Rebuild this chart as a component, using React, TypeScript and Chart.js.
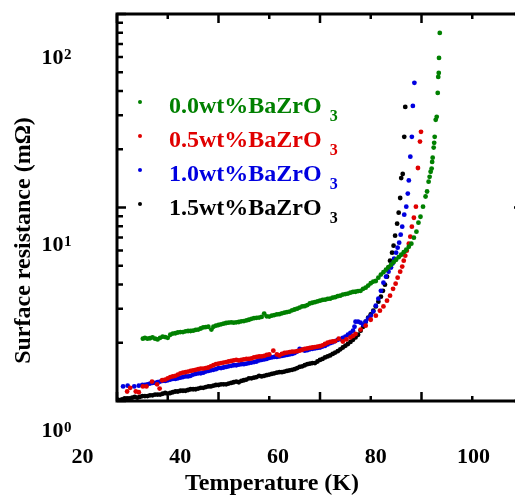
import React, { useEffect, useRef } from 'react';
import { Chart, registerables } from 'chart.js';

Chart.register(...registerables);

// ---- data ----
const seriesNames = ['0.0wt%BaZrO', '0.5wt%BaZrO', '1.0wt%BaZrO', '1.5wt%BaZrO'];
const seriesSubscript = '3';
const seriesColors = ['#008000', '#e00000', '#0000e0', '#000000'];

const tempGreen = [25.1, 26, 27, 28, 29, 30, 31, 32, 33, 34, 35, 36, 37, 38, 38.6, 39, 40, 41, 42, 43, 44, 45, 46, 47, 48, 49, 50, 51, 52, 53, 54, 55, 55.5, 56, 56.5, 57, 57.5, 58, 58.5, 59, 59.5, 60, 60.5, 61, 61.5, 62, 62.5, 63, 63.5, 64, 64.5, 65, 65.5, 66, 66.5, 67, 67.5, 68, 68.5, 69, 69.5, 70, 70.5, 71, 71.5, 72, 72.5, 73, 73.5, 74, 74.5, 75, 75.5, 76, 76.5, 77, 77.5, 78, 78.5, 79, 79.4, 79.8, 80.3, 80.8, 81.1, 81.4, 81.6, 81.8, 82.0, 82.1, 82.2, 82.4, 82.5, 82.6, 82.8, 83.0, 83.2, 83.3, 83.4, 83.45, 83.6];
const resGreen = [2.10, 2.10, 2.13, 2.08, 2.15, 2.12, 2.23, 2.26, 2.27, 2.30, 2.31, 2.34, 2.40, 2.42, 2.34, 2.42, 2.47, 2.51, 2.54, 2.54, 2.56, 2.59, 2.63, 2.68, 2.70, 2.83, 2.73, 2.78, 2.81, 2.86, 2.90, 2.97, 3.00, 3.04, 3.08, 3.09, 3.13, 3.19, 3.22, 3.24, 3.27, 3.30, 3.33, 3.34, 3.37, 3.38, 3.42, 3.44, 3.48, 3.50, 3.55, 3.57, 3.59, 3.63, 3.66, 3.67, 3.70, 3.71, 3.80, 3.85, 3.95, 4.06, 4.14, 4.17, 4.34, 4.50, 4.63, 4.77, 4.92, 5.06, 5.22, 5.37, 5.54, 5.70, 5.88, 6.05, 6.27, 6.50, 6.98, 7.50, 8.35, 8.96, 10.1, 11.4, 12.1, 13.6, 14.4, 15.3, 15.9, 17.2, 18.1, 20.4, 21.6, 23.2, 28.4, 29.4, 39.1, 47.3, 49.6, 59.3, 79.8];
const tempGreenB = [25.5, 26.5, 27.5, 28.5, 29.5, 30.5, 31.5, 32.5, 33.5, 34.5, 35.5, 36.5, 37.5, 39.5, 40.5, 41.5, 42.5, 43.5, 44.5, 45.5, 46.5, 47.5, 48.5, 49.5, 50.5, 51.5, 52.5, 53.5, 54.5];
const resGreenB = [2.12, 2.11, 2.10, 2.12, 2.14, 2.20, 2.24, 2.27, 2.29, 2.30, 2.33, 2.37, 2.41, 2.45, 2.49, 2.53, 2.55, 2.55, 2.58, 2.61, 2.66, 2.69, 2.72, 2.74, 2.76, 2.80, 2.84, 2.88, 2.94];

const tempRed = [22.0, 22.6, 23.7, 24.3, 25.1, 25.8, 26.9, 27.9, 28.4, 28.9, 30, 31, 32, 33, 34, 35, 36, 37, 38, 39, 40, 41, 42, 43, 44, 45, 46, 47, 48, 49, 50, 50.8, 51.5, 52, 53, 54, 55, 56, 57, 58, 59, 60, 61, 62, 63, 63.7, 64.5, 65.2, 66, 67, 68, 69, 70, 71, 71.8, 72.5, 73.2, 73.8, 74.4, 74.9, 75.3, 75.8, 76.2, 76.5, 76.8, 77.1, 77.5, 77.8, 78.1, 78.5, 78.9, 79.3, 79.7, 79.9];
const resRed = [1.12, 1.17, 1.12, 1.11, 1.19, 1.19, 1.26, 1.22, 1.16, 1.28, 1.31, 1.34, 1.37, 1.40, 1.42, 1.44, 1.46, 1.47, 1.49, 1.53, 1.56, 1.58, 1.60, 1.62, 1.62, 1.64, 1.65, 1.68, 1.70, 1.71, 1.74, 1.82, 1.74, 1.72, 1.77, 1.79, 1.80, 1.82, 1.86, 1.88, 1.90, 1.92, 1.97, 2.02, 2.04, 2.10, 2.03, 2.08, 2.13, 2.22, 2.34, 2.45, 2.63, 2.76, 2.93, 3.08, 3.30, 3.50, 3.80, 4.04, 4.34, 4.66, 4.95, 5.31, 5.64, 5.98, 6.50, 7.07, 7.96, 8.85, 10.1, 16.0, 21.9, 24.6];
const tempRedB = [29.5, 30.5, 31.5, 32.5, 33.5, 34.5, 35.5, 36.5, 37.5, 38.5, 39.5, 40.5, 41.5, 42.5, 43.5, 44.5, 45.5, 46.5, 47.5, 48.5, 49.5, 52.5, 53.5, 54.5, 55.5, 56.5, 57.5, 58.5, 59.5, 60.5, 61.5, 62.5, 66.5];
const resRedB = [1.29, 1.33, 1.35, 1.39, 1.41, 1.43, 1.45, 1.47, 1.48, 1.51, 1.55, 1.57, 1.59, 1.61, 1.63, 1.63, 1.65, 1.66, 1.69, 1.70, 1.73, 1.75, 1.78, 1.80, 1.81, 1.84, 1.87, 1.89, 1.91, 1.94, 2.00, 2.03, 2.17];

const tempBlue = [21.2, 22.1, 23.4, 24.3, 25, 26, 27, 28, 29, 30, 31, 32, 33, 34, 35, 36, 37, 38, 39, 40, 41, 42, 43, 44, 45, 46, 47, 48, 49, 50, 51, 52, 53, 54, 55, 56, 57, 58, 59, 60, 61, 62, 63, 64, 65, 66, 66.5, 66.8, 67, 67.5, 68, 68.5, 69, 69.5, 70, 70.5, 71, 71.5, 72, 72.5, 73, 73.5, 74, 74.3, 74.6, 75, 75.3, 75.6, 75.9, 76.2, 76.6, 77.0, 77.3, 77.5, 77.8, 78.1, 78.3, 78.6];
const resBlue = [1.19, 1.20, 1.19, 1.20, 1.21, 1.22, 1.24, 1.25, 1.27, 1.28, 1.30, 1.31, 1.33, 1.34, 1.37, 1.39, 1.40, 1.43, 1.45, 1.48, 1.49, 1.51, 1.53, 1.54, 1.55, 1.57, 1.59, 1.62, 1.64, 1.67, 1.69, 1.70, 1.72, 1.74, 1.77, 1.86, 1.82, 1.85, 1.87, 1.89, 1.93, 1.99, 2.04, 2.09, 2.15, 2.25, 2.31, 2.42, 2.57, 2.57, 2.54, 2.48, 2.57, 2.67, 2.76, 2.90, 3.11, 3.38, 3.71, 4.09, 4.39, 4.66, 4.89, 5.13, 5.44, 5.84, 6.20, 6.58, 7.24, 7.96, 9.18, 10.1, 11.8, 13.8, 18.3, 23.2, 33.5, 44.1];
const tempBlueB = [25.5, 26.5, 27.5, 28.5, 29.5, 30.5, 31.5, 32.5, 33.5, 34.5, 35.5, 36.5, 37.5, 38.5, 39.5, 40.5, 41.5, 42.5, 43.5, 44.5, 45.5, 46.5, 47.5, 48.5, 49.5, 50.5, 51.5, 52.5, 53.5, 54.5, 55.5, 56.5, 57.5, 58.5, 59.5, 60.5, 61.5, 62.5, 63.5, 64.5, 65.5];
const resBlueB = [1.21, 1.23, 1.24, 1.26, 1.27, 1.29, 1.30, 1.32, 1.34, 1.35, 1.38, 1.39, 1.42, 1.44, 1.46, 1.48, 1.50, 1.52, 1.53, 1.55, 1.56, 1.58, 1.60, 1.63, 1.65, 1.68, 1.69, 1.71, 1.73, 1.75, 1.80, 1.84, 1.83, 1.86, 1.88, 1.91, 1.96, 2.01, 2.07, 2.12, 2.20];

const tempBlack = [20, 21, 22, 23, 24, 25, 26, 27, 28, 29, 30, 31, 32, 33, 34, 35, 36, 37, 38, 39, 40, 41, 42, 43, 44, 45, 46, 47, 48, 49, 50, 51, 52, 53, 54, 55, 56, 57, 58, 59, 60, 61, 62, 63, 64, 65, 66, 67, 67.5, 68, 68.5, 69, 69.5, 70, 70.5, 71, 71.5, 72, 72.4, 72.8, 73.2, 73.5, 73.8, 74.2, 74.5, 74.8, 75.2, 75.5, 75.8, 76.0, 76.3, 76.6, 76.8];
const resBlack = [1.02, 1.02, 1.03, 1.04, 1.04, 1.06, 1.06, 1.07, 1.08, 1.09, 1.09, 1.11, 1.12, 1.13, 1.14, 1.15, 1.16, 1.17, 1.19, 1.20, 1.21, 1.22, 1.23, 1.25, 1.25, 1.28, 1.31, 1.32, 1.35, 1.35, 1.37, 1.39, 1.41, 1.42, 1.44, 1.46, 1.50, 1.53, 1.56, 1.57, 1.63, 1.68, 1.72, 1.78, 1.85, 1.93, 2.02, 2.13, 2.20, 2.31, 2.42, 2.57, 2.70, 2.80, 2.93, 3.08, 3.26, 3.46, 3.71, 3.99, 4.39, 4.89, 5.31, 5.84, 6.35, 7.15, 8.25, 9.40, 11.2, 14.2, 14.9, 23.2, 33.1];
const tempBlackB = [20.5, 21.5, 22.5, 23.5, 24.5, 25.5, 26.5, 27.5, 28.5, 29.5, 30.5, 31.5, 32.5, 33.5, 34.5, 35.5, 36.5, 37.5, 38.5, 39.5, 40.5, 41.5, 42.5, 43.5, 44.5, 45.5, 46.5, 47.5, 48.5, 49.5, 50.5, 51.5, 52.5, 53.5, 54.5, 55.5, 56.5, 57.5, 58.5, 59.5, 60.5, 61.5, 62.5, 63.5, 64.5, 65.5, 66.5];
const resBlackB = [1.01, 1.03, 1.03, 1.05, 1.05, 1.06, 1.07, 1.08, 1.08, 1.10, 1.10, 1.12, 1.13, 1.13, 1.15, 1.15, 1.17, 1.18, 1.19, 1.21, 1.22, 1.22, 1.24, 1.26, 1.27, 1.29, 1.31, 1.33, 1.34, 1.36, 1.38, 1.40, 1.41, 1.43, 1.45, 1.48, 1.51, 1.55, 1.57, 1.60, 1.65, 1.70, 1.75, 1.81, 1.89, 1.97, 2.07];

const seriesTemps = [tempGreen.concat(tempGreenB), tempRed.concat(tempRedB), tempBlue.concat(tempBlueB), tempBlack.concat(tempBlackB)];
const seriesRes = [resGreen.concat(resGreenB), resRed.concat(resRedB), resBlue.concat(resBlueB), resBlack.concat(resBlackB)];

const xTickLabels = [20, 40, 60, 80, 100];
const xMinorTicks = [30, 50, 70, 90];
const yTickExponents = [2, 1, 0];
const yMinorMantissas = [2, 3, 4, 5, 6, 7, 8, 9];
const xTitle = 'Temperature (K)';
const yTitle = 'Surface resistance (mΩ)';

const FONT = '"Liberation Serif", "Times New Roman", Times, serif';

const decorPlugin = {
  id: 'decor',
  afterDatasetsDraw(chart: any) {
    const ctx = chart.ctx as CanvasRenderingContext2D;
    const { left, right, top, bottom } = chart.chartArea;
    const xs = chart.scales.x;
    const ys = chart.scales.y;
    const xl = chart.scales.xl;
    const yl = chart.scales.yl;
    ctx.save();
    ctx.strokeStyle = '#000';
    ctx.fillStyle = '#000';

    // inward ticks
    ctx.lineWidth = 2.5;
    ctx.lineCap = 'butt';
    const vTick = (px: number, len: number) => {
      ctx.beginPath();
      ctx.moveTo(px, bottom);
      ctx.lineTo(px, bottom - len);
      ctx.moveTo(px, top);
      ctx.lineTo(px, top + len);
      ctx.stroke();
    };
    const hTick = (py: number, len: number) => {
      ctx.beginPath();
      ctx.moveTo(left, py);
      ctx.lineTo(left + len, py);
      ctx.moveTo(right, py);
      ctx.lineTo(right - len, py);
      ctx.stroke();
    };
    xTickLabels.forEach((v) => vTick(xs.getPixelForValue(v), 9));
    xMinorTicks.forEach((v) => vTick(xs.getPixelForValue(v), 5));
    yTickExponents.forEach((e) => hTick(ys.getPixelForValue(Math.pow(10, e)), 9));
    yTickExponents.forEach((e) => {
      yMinorMantissas.forEach((m) => {
        const v = m * Math.pow(10, e);
        if (v > ys.min && v < ys.max) hTick(ys.getPixelForValue(v), 6);
      });
    });

    // frame
    ctx.lineWidth = 3;
    ctx.lineCap = 'square';
    ctx.strokeRect(left, top, right - left, bottom - top);

    // x tick labels
    ctx.font = `bold 22px ${FONT}`;
    ctx.textAlign = 'center';
    ctx.textBaseline = 'alphabetic';
    xTickLabels.forEach((v) => ctx.fillText(String(v), xl.getPixelForValue(v), bottom + 62));

    // y tick labels (10^n)
    yTickExponents.forEach((e) => {
      const py = yl.getPixelForValue(Math.pow(10, e));
      ctx.font = `bold 22px ${FONT}`;
      ctx.textAlign = 'right';
      ctx.fillText('10', left - 53.5, py);
      ctx.font = `bold 15px ${FONT}`;
      ctx.textAlign = 'left';
      ctx.fillText(String(e), left - 53, py - 5);
    });

    // axis titles
    ctx.font = `bold 24px ${FONT}`;
    ctx.textAlign = 'center';
    ctx.fillText(xTitle, 272, 490);
    ctx.save();
    ctx.translate(30, 240.5);
    ctx.rotate(-Math.PI / 2);
    ctx.fillText(yTitle, 0, 0);
    ctx.restore();

    // legend
    seriesNames.forEach((name, i) => {
      const by = top + 99 + i * 34;
      const color = seriesColors[i];
      ctx.fillStyle = color;
      ctx.beginPath();
      ctx.arc(140, by - 11, 2, 0, Math.PI * 2);
      ctx.fill();
      ctx.font = `bold 24px ${FONT}`;
      ctx.textAlign = 'left';
      ctx.fillText(name, 169, by);
      const w = ctx.measureText(name).width;
      ctx.font = `bold 16px ${FONT}`;
      ctx.fillText(seriesSubscript, 169 + w + 8, by + 7.5);
    });
    ctx.restore();
  },
};

export default function App() {
  const canvasRef = useRef<HTMLCanvasElement | null>(null);

  useEffect(() => {
    const canvas = canvasRef.current;
    if (!canvas) return;
    const datasets = seriesNames.map((name, i) => ({
      label: name + seriesSubscript,
      data: seriesTemps[i].map((t, j) => ({ x: t, y: seriesRes[i][j] })),
      backgroundColor: seriesColors[i],
      borderColor: seriesColors[i],
      pointRadius: 2.4,
      pointBorderWidth: 0,
      pointHoverRadius: 2.4,
      showLine: false,
      xAxisID: 'x',
      yAxisID: 'y',
    }));
    const chart = new Chart(canvas, {
      type: 'scatter',
      data: { datasets },
      options: {
        animation: false,
        responsive: false,
        devicePixelRatio: 1,
        layout: { padding: { left: 117, top: 14, right: 17, bottom: 97 } },
        plugins: { legend: { display: false }, tooltip: { enabled: false } },
        scales: {
          x: { type: 'linear', position: 'bottom', min: 20, max: 100, display: false },
          y: { type: 'logarithmic', position: 'left', min: 1, max: 100, display: false },
          xl: { type: 'linear', position: 'bottom', min: 27.06, max: 110.13, display: false },
          yl: { type: 'logarithmic', position: 'left', min: 1.567, max: 185.1, display: false },
        },
      },
      plugins: [decorPlugin],
    } as any);
    return () => chart.destroy();
  }, []);

  return (
    <div style={{ position: 'absolute', left: 0, top: 0, width: 515, height: 498, overflow: 'hidden', background: '#fff' }}>
      <canvas ref={canvasRef} width={540} height={498} style={{ width: 540, height: 498, display: 'block' }} />
    </div>
  );
}
